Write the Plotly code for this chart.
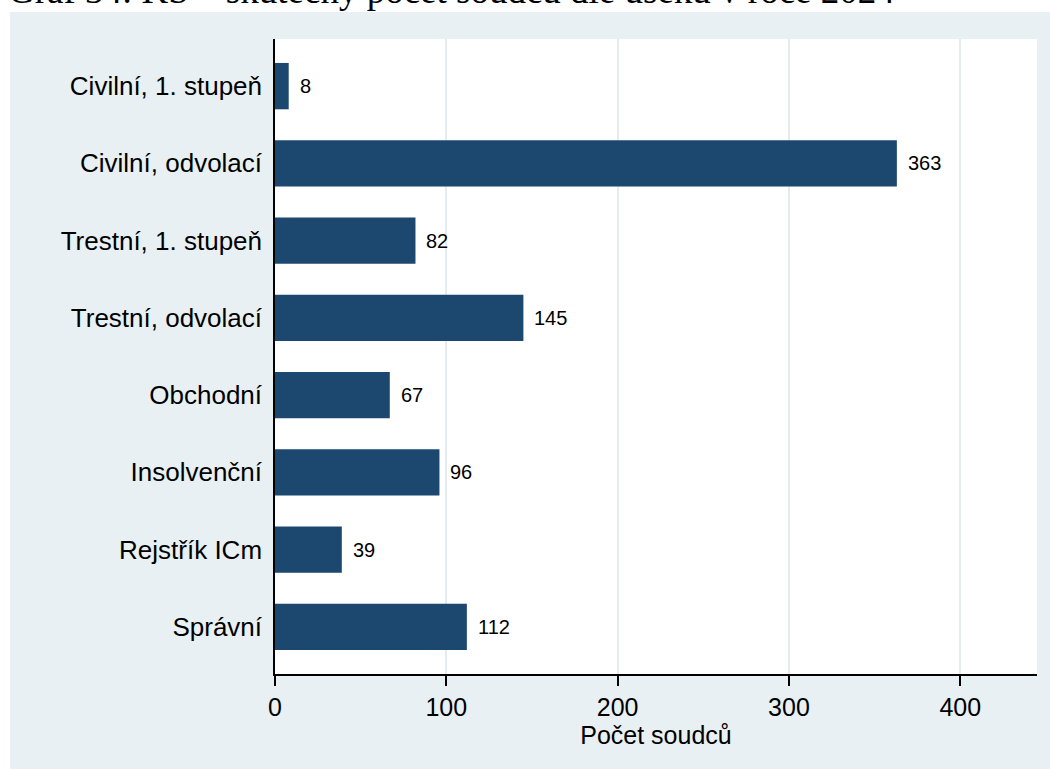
import plotly.graph_objects as go

categories = ["Civilní, 1. stupeň", "Civilní, odvolací", "Trestní, 1. stupeň",
              "Trestní, odvolací", "Obchodní", "Insolvenční", "Rejstřík ICm", "Správní"]
values = [8, 363, 82, 145, 67, 96, 39, 112]
x_ticks = [0, 100, 200, 300, 400]
title_text = "Graf 34: KS – skutečný počet soudců dle úseků v roce 2024"
x_title = "Počet soudců"

W, H = 1050, 769
ML, MR, MT, MB = 275, 13, 39, 95
PH = H - MT - MB
PW = W - ML - MR

bg = "#e9f0f3"
bar_color = "#1c4870"
sans = "Arial, Liberation Sans, sans-serif"

fig = go.Figure()
fig.add_trace(go.Bar(
    y=categories, x=values, orientation="h",
    marker=dict(color=bar_color, line=dict(width=0)),
    width=0.6,
    hoverinfo="x+y",
))

for c, v in zip(categories, values):
    fig.add_annotation(x=v, y=c, xref="x", yref="y", text=str(v), showarrow=False,
                       xanchor="left", yanchor="middle", xshift=9,
                       font=dict(family=sans, size=20, color="black"))

def py(p):
    return (H - MB - p) / PH

def px(p):
    return (p - ML) / PW

# white strips at top and left of page
fig.add_shape(type="rect", xref="paper", yref="paper", x0=px(0), x1=px(W), y0=py(12), y1=py(0),
              fillcolor="white", line=dict(width=0), layer="above")
fig.add_shape(type="rect", xref="paper", yref="paper", x0=px(0), x1=px(10), y0=py(H), y1=py(0),
              fillcolor="white", line=dict(width=0), layer="above")

fig.add_annotation(text=title_text, xref="paper", yref="paper", x=px(6), y=py(13.5),
                   xanchor="left", yanchor="bottom", showarrow=False,
                   font=dict(family="Liberation Serif, Times New Roman, serif", size=37, color="black"))

fig.update_layout(
    width=W, height=H,
    margin=dict(l=ML, r=MR, t=MT, b=MB, pad=0),
    paper_bgcolor=bg, plot_bgcolor="white",
    showlegend=False,
    font=dict(family=sans, size=25, color="black"),
    xaxis=dict(range=[0, 444.8], tickvals=x_ticks, ticks="outside", ticklen=10, tickwidth=1.5,
               tickcolor="black", showline=True, linecolor="black", linewidth=1.5,
               showgrid=True, gridcolor="#e4ecef", gridwidth=2, zeroline=False,
               tickfont=dict(size=25), title=dict(text=x_title, font=dict(size=25), standoff=0),
               fixedrange=True),
    yaxis=dict(categoryorder="array", categoryarray=categories, autorange=False,
               range=[7.61, -0.61], showline=True, linecolor="black", linewidth=1.5,
               ticks="", ticklabelstandoff=6, showgrid=False, zeroline=False,
               tickfont=dict(size=26), fixedrange=True),
)

fig.write_html("out.html", config={"displayModeBar": False},
               post_script="document.body.style.margin='0';")
